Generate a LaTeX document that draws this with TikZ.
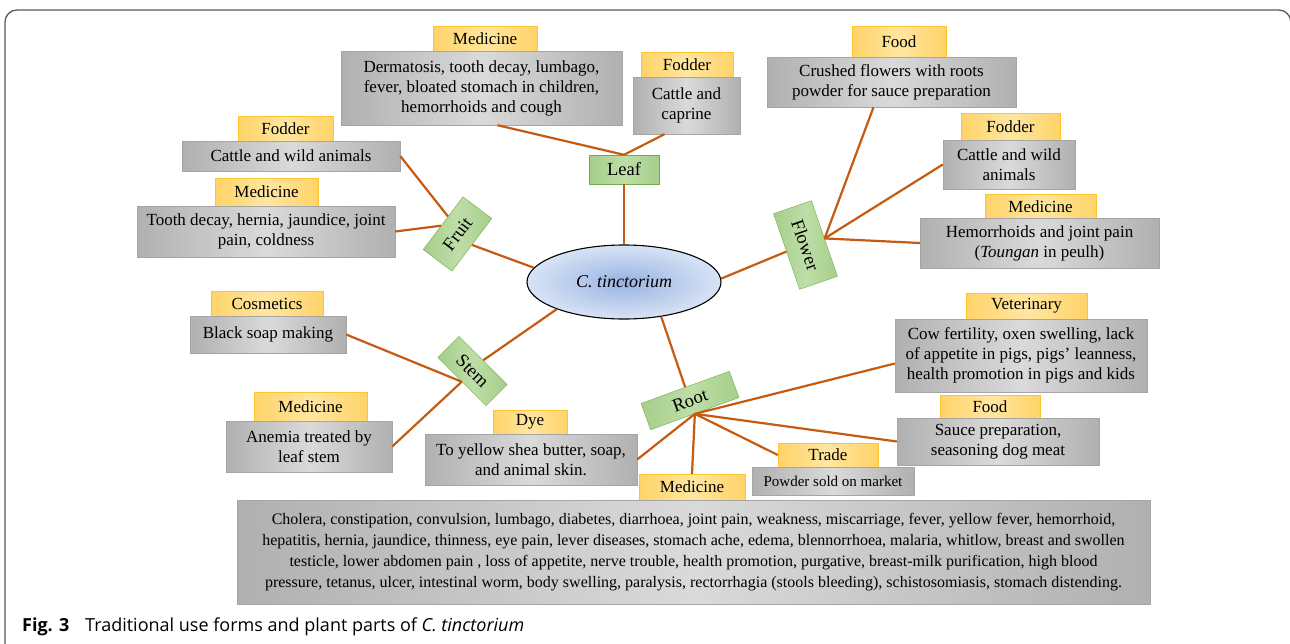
\documentclass[tikz,border=0pt]{standalone}
\usepackage{fontspec}
\setmainfont{Liberation Serif}
\newfontfamily\capfont{Open Sans}
\usetikzlibrary{calc,shapes.geometric}

\definecolor{boxdark}{RGB}{176,176,176}
\definecolor{boxlight}{RGB}{218,218,218}
\definecolor{boxedge}{RGB}{165,165,165}
\definecolor{tagdark}{RGB}{255,211,104}
\definecolor{taglight}{RGB}{255,230,160}
\definecolor{tagedge}{RGB}{255,196,48}
\definecolor{partfill}{RGB}{166,206,138}
\definecolor{partlight}{RGB}{190,222,168}
\definecolor{partedge}{RGB}{112,173,71}
\definecolor{ellin}{RGB}{152,179,226}
\definecolor{ellout}{RGB}{216,227,245}
\definecolor{linkc}{RGB}{197,90,17}
\definecolor{framec}{RGB}{90,90,90}

\tikzset{
  usebox/.style={draw=boxedge, left color=boxdark, right color=boxdark, middle color=boxlight,
    inner sep=0pt, align=center, font=\fontsize{17}{20}\selectfont},
  usetag/.style={draw=tagedge, left color=tagdark, right color=tagdark, middle color=taglight,
    inner sep=0pt, font=\fontsize{17}{20}\selectfont},
  part/.style={draw=partedge, left color=partfill, right color=partfill, middle color=partlight,
    inner sep=0pt, font=\fontsize{18.5}{20}\selectfont},
  link/.style={draw=linkc, line width=2.2pt},
}

\begin{document}
\begin{tikzpicture}[x=1pt, y=-1pt]
  \useasboundingbox (0,0) rectangle (1290,643);
  \draw[framec, line width=1.3pt, rounded corners=12pt] (5,660) -- (5,10) -- (1290.8,10) -- (1290.8,660);

  % centre
  \node[ellipse, draw=black, line width=1.1pt, inner color=ellin, outer color=ellout,
        minimum width=194, minimum height=74, inner sep=0pt,
        font=\fontsize{18}{20}\selectfont\itshape] (ell) at (624,282) {C. tinctorium};

  % plant parts
  \node[part, minimum width=70, minimum height=29] (leaf) at (624,169.5) {Leaf};
  \node[part, minimum width=66, minimum height=36, rotate=53] (fruit) at (457.5,234) {Fruit};
  \node[part, minimum width=80, minimum height=40, rotate=-71] (flower) at (805.5,245) {Flower};
  \node[part, minimum width=68, minimum height=30, rotate=-45] (stem) at (472.5,371) {Stem};
  \node[part, minimum width=94, minimum height=28, rotate=20] (root) at (690,400.5) {Root};

  % leaf uses
  \node[usetag, minimum width=104, minimum height=26] (medLt) at (485,39) {Medicine};
  \node[usebox, minimum width=281, minimum height=74] (medL) at (481.5,88)
    {Dermatosis, tooth decay, lumbago,\\ fever, bloated stomach in children,\\ hemorrhoids and cough};
  \node[usetag, minimum width=92, minimum height=26] (fodLt) at (687,65) {Fodder};
  \node[usebox, minimum width=107, minimum height=57] (fodL) at (686.5,105.5) {Cattle and\\ caprine};

  % flower uses
  \node[usetag, minimum width=94, minimum height=31] (foodFlt) at (899,41.5) {Food};
  \node[usebox, minimum width=249, minimum height=50] (foodFl) at (891.5,82)
    {Crushed flowers with roots\\ powder for sauce preparation};
  \node[usetag, minimum width=99, minimum height=27] (fodFlt) at (1010.5,126.5) {Fodder};
  \node[usebox, minimum width=132, minimum height=49] (fodFl) at (1009,164.5) {Cattle and wild\\ animals};
  \node[usetag, minimum width=111, minimum height=25] (medFlt) at (1040.5,206.5) {Medicine};
  \node[usebox, minimum width=239, minimum height=50] (medFl) at (1039.5,243)
    {Hemorrhoids and joint pain\\ (\textit{Toungan} in peulh)};

  % fruit uses
  \node[usetag, minimum width=95, minimum height=25] (fodFrt) at (285.5,128.5) {Fodder};
  \node[usebox, minimum width=218, minimum height=30] (fodFr) at (291,156) {Cattle and wild animals};
  \node[usetag, minimum width=103, minimum height=28] (medFrt) at (266.5,192) {Medicine};
  \node[usebox, minimum width=258, minimum height=51] (medFr) at (266,231.5)
    {Tooth decay, hernia, jaundice, joint\\ pain, coldness};

  % stem uses
  \node[usetag, minimum width=112, minimum height=26] (cosmt) at (267,304) {Cosmetics};
  \node[usebox, minimum width=156, minimum height=37] (cosm) at (268,334.5) {Black soap making};
  \node[usetag, minimum width=113, minimum height=29] (medSt) at (310.5,406.5) {Medicine};
  \node[usebox, minimum width=166, minimum height=51] (medS) at (309,446.5) {Anemia treated by\\ leaf stem};

  % root uses
  \node[usetag, minimum width=74, minimum height=24] (dyet) at (530,422) {Dye};
  \node[usebox, minimum width=212, minimum height=51] (dye) at (531,459.5)
    {To yellow shea butter, soap,\\ and animal skin.};
  \node[usetag, minimum width=121, minimum height=26] (vett) at (1026.5,306) {Veterinary};
  \node[usebox, minimum width=252, minimum height=73] (vet) at (1021,355.5)
    {Cow fertility, oxen swelling, lack\\ of appetite in pigs, pigs’ leanness,\\ health promotion in pigs and kids};
  \node[usetag, minimum width=100, minimum height=23] (foodRt) at (990,406.5) {Food};
  \node[usebox, minimum width=202, minimum height=47] (foodR) at (998,441.5)
    {Sauce preparation,\\ seasoning dog meat};
  \node[usetag, minimum width=100, minimum height=24] (tradet) at (828,455) {Trade};
  \node[usebox, minimum width=162, minimum height=28, font=\fontsize{15}{18}\selectfont] (trade) at (833,481)
    {Powder sold on market};
  \node[usetag, minimum width=106, minimum height=26] (medRt) at (692,487) {Medicine};
  \node[usebox, minimum width=913, minimum height=104, font=\fontsize{16}{21}\selectfont] (medR) at (693.5,552)
    {Cholera, constipation, convulsion, lumbago, diabetes, diarrhoea, joint pain, weakness, miscarriage, fever, yellow fever, hemorrhoid,\\
     hepatitis, hernia, jaundice, thinness, eye pain, lever diseases, stomach ache, edema, blennorrhoea, malaria, whitlow, breast and swollen\\
     testicle, lower abdomen pain , loss of appetite, nerve trouble, health promotion, purgative, breast-milk purification, high blood\\
     pressure, tetanus, ulcer, intestinal worm, body swelling, paralysis, rectorrhagia (stools bleeding), schistosomiasis, stomach distending.};

  % connectors
  \draw[link] (leaf.south) -- (ell.90);
  \draw[link] (leaf.north) -- ($(medL.south)+(16,0)$);
  \draw[link] (leaf.north) -- ($(fodL.south)+(-22,0)$);
  \draw[link] (fruit.south) -- (ell.171);
  \draw[link] ($(fruit.north)!0.25!(fruit.north east)$) -- (fodFr.east);
  \draw[link] ($(fruit.north)!0.1!(fruit.north west)$) -- (medFr.east);
  \draw[link] (flower.south) -- (ell.2);
  \draw[link] (flower.north) -- ($(foodFl.south)+(-18,0)$);
  \draw[link] (flower.north) -- (fodFl.west);
  \draw[link] (flower.north) -- (medFl.west);
  \draw[link] (stem.north) -- (ell.202);
  \draw[link] (stem.south) -- (cosm.east);
  \draw[link] (stem.south) -- (medS.east);
  \draw[link] (root.north) -- (ell.317);
  \draw[link] (root.south) -- (dye.east);
  \draw[link] (root.south) -- (medRt.north);
  \draw[link] (root.south) -- (tradet.west);
  \draw[link] (root.south) -- (foodR.west);
  \draw[link] (root.south) -- ($(vet.west)+(0,8)$);

  % caption
  \node[anchor=base west, inner sep=0pt, font=\capfont\fontsize{18}{20}\selectfont\bfseries] (figno) at (22,631) {Fig. 3};
  \node[anchor=base west, inner sep=0pt, font=\capfont\fontsize{18}{20}\selectfont] (figcap) at (85,631)
    {Traditional use forms and plant parts of \textit{C. tinctorium}};
\end{tikzpicture}
\end{document}
